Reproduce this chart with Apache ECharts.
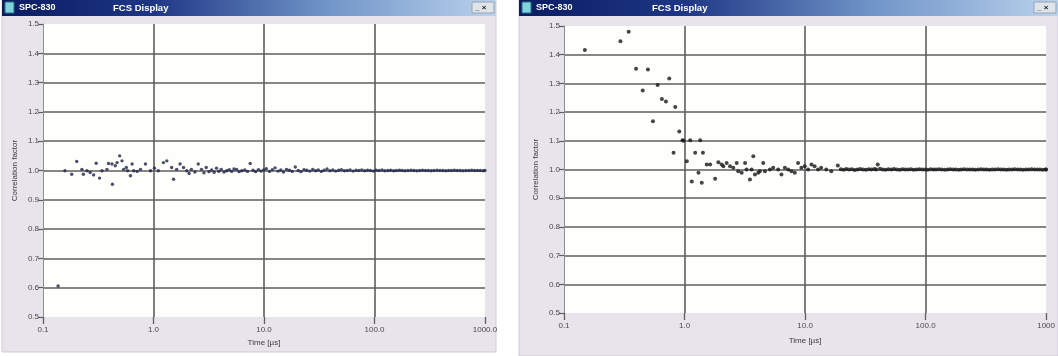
<!DOCTYPE html>
<html>
<head>
<meta charset="utf-8">
<script src="https://cdn.jsdelivr.net/npm/echarts@6/dist/echarts.min.js"></script>
<style>
  html, body { margin: 0; padding: 0; background: #ffffff; }
  #chart { width: 1058px; height: 356px; }
</style>
</head>
<body>
<div id="chart"></div>
<script>
// Tick labels
const yTickLabels = ['0.5', '0.6', '0.7', '0.8', '0.9', '1.0', '1.1', '1.2', '1.3', '1.4', '1.5'];
const xTickLabelsLeft = ['0.1', '1.0', '10.0', '100.0', '1000.0'];
const xTickLabelsRight = ['0.1', '1.0', '10.0', '100.0', '1000'];

// Left window: correlation curve, time in microseconds
const leftTimes = [
  0.137, 0.158, 0.182, 0.202, 0.225, 0.232, 0.250, 0.267, 0.287, 0.303,
  0.325, 0.342, 0.379, 0.392, 0.421, 0.425, 0.451, 0.468, 0.494, 0.519,
  0.537, 0.568, 0.584, 0.618, 0.640, 0.662, 0.711, 0.762, 0.846, 0.939,
  1.02, 1.105, 1.23, 1.32, 1.46, 1.52, 1.62, 1.74, 1.87, 2.00,
  2.10, 2.20, 2.37, 2.54, 2.72, 2.86, 3.00, 3.18, 3.36, 3.54,
  3.72, 3.90, 4.10, 4.35, 4.60, 4.85, 5.10, 5.35, 5.65, 5.95,
  6.30, 6.70, 7.10, 7.50, 7.95, 8.40, 8.90, 9.40, 9.95,
  10.5, 11.2, 11.9, 12.6, 13.4, 14.2, 15.0, 16.0, 17.0, 18.0,
  19.2, 20.4, 21.6, 23.0, 24.4, 26.0, 27.6, 29.3, 31.0, 33.0,
  35.0, 37.2, 39.5, 42.0, 44.6, 47.3, 50.2, 53.4, 56.7, 60.2,
  64.0, 68.0, 72.2, 76.7, 81.5, 86.5, 91.9, 97.6, 103.7, 110.1,
  117, 124, 132, 140, 149, 158, 168, 178, 189, 201,
  214, 227, 241, 256, 272, 289, 307, 326, 346, 368,
  391, 415, 441, 468, 497, 528, 561, 596, 633, 672,
  714, 758, 805, 855, 908, 965, 1000
];
const leftValues = [
  0.606, 0.999, 0.987, 1.031, 1.004, 0.987, 0.999, 0.993, 0.985, 1.025,
  0.974, 0.999, 1.004, 1.024, 1.022, 0.953, 1.016, 1.027, 1.050, 1.033,
  1.004, 1.010, 0.999, 0.982, 1.022, 0.999, 0.997, 1.004, 1.022, 0.999,
  1.008, 0.999, 1.027, 1.033, 1.010, 0.970, 1.004, 1.022, 1.010, 0.999,
  0.990, 1.004, 0.995, 1.022, 1.004, 0.992, 1.010, 0.996, 1.002, 0.994,
  1.008, 0.997, 1.004, 0.995, 0.999, 1.003, 0.997, 1.005, 1.004, 0.996,
  0.999, 1.002, 0.997, 1.024, 1.001, 0.996, 1.003, 0.998, 1.002,
  1.006, 0.997, 1.003, 1.009, 0.998, 1.002, 0.995, 1.004, 1.001, 0.997,
  1.012, 1.000, 0.996, 1.003, 1.001, 0.998, 1.004, 0.999, 1.002, 0.997,
  1.001, 1.005, 0.999, 1.002, 0.998, 1.001, 1.003, 0.999, 1.000, 1.002,
  0.998, 1.001, 1.000, 1.002, 0.999, 1.001, 1.000, 0.998, 1.001, 1.000,
  1.002, 0.999, 1.000, 1.001, 0.999, 1.000, 1.001, 1.000, 0.999, 1.000,
  1.001, 1.000, 0.999, 1.000, 1.001, 1.000, 1.000, 0.999, 1.000, 1.001,
  1.000, 1.000, 0.999, 1.000, 1.000, 1.001, 1.000, 1.000, 0.999, 1.000,
  1.000, 1.001, 1.000, 1.000, 1.000, 0.999, 1.000
];

// Right window: correlation curve with bunching at short times
const rightTimes = [
  0.149, 0.294, 0.344, 0.396, 0.450, 0.497, 0.547, 0.598, 0.649, 0.701,
  0.747, 0.811, 0.838, 0.904, 0.962, 0.981, 1.045, 1.115, 1.149, 1.226,
  1.305, 1.349, 1.390, 1.422, 1.529, 1.631, 1.794, 1.910, 2.034, 2.10,
  2.237, 2.386, 2.54, 2.71, 2.79, 2.98, 3.18, 3.27, 3.49, 3.60,
  3.72, 3.84, 4.09, 4.22, 4.50, 4.65, 5.11, 5.44, 5.98, 6.37,
  6.80, 7.24, 7.71, 8.22, 8.75, 9.32, 9.94, 10.6, 11.3, 12.0,
  12.8, 13.6, 15.0, 16.5, 18.7,
  19.8, 20.9, 22.0, 23.2, 24.5, 25.8, 27.2, 28.7, 30.3, 32.0,
  33.8, 35.6, 37.6, 39.0, 40.1, 41.9, 44.2, 46.6, 49.2, 52.0,
  54.8, 57.8, 61.0, 64.4, 67.9, 71.7, 75.6, 79.8, 84.2, 88.8,
  93.7, 98.9, 104.3, 110.0, 116, 122, 129, 136, 144, 152,
  160, 169, 178, 188, 198, 209, 221, 233, 246, 259,
  274, 289, 305, 321, 339, 358, 377, 398, 420, 443,
  468, 493, 521, 549, 580, 611, 645, 681, 718, 758,
  800, 844, 890, 939, 991, 1000
];
const rightValues = [
  1.416, 1.447, 1.480, 1.351, 1.275, 1.348, 1.168, 1.294, 1.246, 1.237,
  1.317, 1.058, 1.218, 1.132, 1.102, 1.100, 1.029, 1.102, 0.958, 1.058,
  0.989, 1.102, 0.954, 1.058, 1.017, 1.017, 0.968, 1.025, 1.017, 1.011,
  1.023, 1.011, 1.006, 1.023, 0.994, 0.989, 1.023, 1.000, 0.965, 1.000,
  1.046, 0.983, 0.989, 0.994, 1.023, 0.994, 1.000, 1.006, 1.000, 0.983,
  1.006, 1.000, 0.994, 0.989, 1.023, 1.006, 1.011, 1.000, 1.017, 1.011,
  1.000, 1.006, 1.000, 0.994, 1.014,
  1.001, 0.999, 1.002, 1.000, 1.001, 0.998, 1.000, 1.002, 1.000, 0.999,
  1.001, 1.000, 1.002, 1.000, 1.017, 1.003, 1.000, 0.999, 1.001, 1.000,
  1.002, 1.000, 0.999, 1.001, 1.000, 1.000, 1.001, 0.999, 1.000, 1.001,
  1.000, 1.000, 0.999, 1.001, 1.000, 1.000, 1.001, 1.000, 0.999, 1.000,
  1.001, 1.000, 1.000, 0.999, 1.000, 1.001, 1.000, 1.000, 1.000, 0.999,
  1.000, 1.001, 1.000, 1.000, 0.999, 1.000, 1.000, 1.001, 1.000, 1.000,
  0.999, 1.000, 1.000, 1.001, 1.000, 1.000, 0.999, 1.000, 1.000, 1.001,
  1.000, 1.000, 1.000, 0.999, 1.000, 1.000
];

const pairs = (xs, ys) => xs.map((x, i) => [x, ys[i]]);

const GRID_COLOR = '#5e5e5e';
const LABEL_COLOR = '#4a4a4a';
const FONT = 'Liberation Sans, Arial, sans-serif';

function xAxisFor(gridIndex, labels, nameGap) {
  return {
    type: 'log', logBase: 10, gridIndex: gridIndex,
    min: 0.1, max: 1000, splitNumber: 4,
    name: 'Time [µs]', nameLocation: 'middle', nameGap: nameGap,
    nameTextStyle: { color: '#3a3a3a', fontSize: 8, fontFamily: FONT },
    axisLine: { show: false },
    axisTick: { show: true, length: 7, lineStyle: { color: GRID_COLOR, width: 1.3 } },
    axisLabel: {
      color: LABEL_COLOR, fontSize: 8, fontFamily: FONT, margin: 9,
      formatter: v => labels[Math.round(Math.log10(v)) + 1]
    },
    splitLine: {
      show: true,
      lineStyle: { color: ['transparent', GRID_COLOR, GRID_COLOR, GRID_COLOR, 'transparent'], width: 1.6 }
    },
    minorTick: { show: false }
  };
}

function yAxisFor(gridIndex, nameGap) {
  return {
    type: 'value', gridIndex: gridIndex,
    min: 0.5, max: 1.5, interval: 0.1,
    name: 'Correlation factor', nameLocation: 'middle', nameGap: nameGap, nameRotate: 90,
    nameTextStyle: { color: '#3a3a3a', fontSize: 8, fontFamily: FONT },
    axisLine: { show: true, lineStyle: { color: '#8c8c8c', width: 1 } },
    axisTick: { show: true, length: 5, lineStyle: { color: GRID_COLOR, width: 1.2 } },
    axisLabel: {
      color: LABEL_COLOR, fontSize: 8, fontFamily: FONT, margin: 4,
      formatter: v => yTickLabels[Math.round((v - 0.5) * 10)]
    },
    splitLine: {
      show: true,
      lineStyle: {
        color: ['transparent', GRID_COLOR, GRID_COLOR, GRID_COLOR, GRID_COLOR, GRID_COLOR,
                GRID_COLOR, GRID_COLOR, GRID_COLOR, GRID_COLOR, 'transparent'],
        width: 1.6
      }
    }
  };
}

// Window frame with a gradient title bar
function windowFrame(x, w, h, titleX) {
  return [
    { type: 'rect', z: -10, shape: { x: x, y: 0, width: w, height: h },
      style: { fill: '#e8e4ec', stroke: '#cfcbd5', lineWidth: 1 } },
    { type: 'rect', z: -9, shape: { x: x, y: 0, width: w, height: 16 },
      style: { fill: new echarts.graphic.LinearGradient(0, 0, 1, 0, [
        { offset: 0, color: '#0b1c62' },
        { offset: 0.3, color: '#1d3684' },
        { offset: 0.65, color: '#6f93c7' },
        { offset: 1, color: '#b9d2ec' }
      ]) } },
    { type: 'rect', z: -8, shape: { x: x + 3, y: 2, width: 9, height: 11 },
      style: { fill: '#7fd3dc', stroke: '#2a6c80', lineWidth: 1 } },
    { type: 'text', z: -8, x: x + 17, y: 8,
      style: { text: 'SPC-830', fill: '#ffffff', font: 'bold 9px ' + FONT, verticalAlign: 'middle' } },
    { type: 'text', z: -8, x: titleX, y: 8,
      style: { text: 'FCS Display', fill: '#ffffff', font: 'bold 9.5px ' + FONT, verticalAlign: 'middle' } }
  ];
}

function buttons(x) {
  return [
    { type: 'rect', z: -8, shape: { x: x, y: 2, width: 22, height: 11 },
      style: { fill: '#dfe3ea', stroke: '#9aa3b3', lineWidth: 1 } },
    { type: 'text', z: -7, x: x + 3, y: 8,
      style: { text: '_ ×', fill: '#1c1c1c', font: 'bold 8px ' + FONT, verticalAlign: 'middle' } }
  ];
}

const chart = echarts.init(document.getElementById('chart'), null, { renderer: 'canvas' });

chart.setOption({
  animation: false,
  backgroundColor: '#ffffff',
  graphic: [
    ...windowFrame(2, 494, 352, 113),
    ...buttons(472),
    ...windowFrame(519, 539, 356, 652),
    ...buttons(1034)
  ],
  grid: [
    { left: 43, top: 24, width: 442, height: 293, show: true, backgroundColor: '#fefefb', borderWidth: 0 },
    { left: 564, top: 26, width: 485, height: 287, show: true, backgroundColor: '#fefefc', borderWidth: 0 }
  ],
  xAxis: [xAxisFor(0, xTickLabelsLeft, 20), xAxisFor(1, xTickLabelsRight, 24)],
  yAxis: [yAxisFor(0, 24), yAxisFor(1, 24)],
  series: [
    {
      type: 'scatter', xAxisIndex: 0, yAxisIndex: 0,
      data: pairs(leftTimes, leftValues),
      symbol: 'circle', symbolSize: 3.4,
      itemStyle: { color: '#1f2348' }
    },
    {
      type: 'scatter', xAxisIndex: 1, yAxisIndex: 1,
      data: pairs(rightTimes, rightValues),
      symbol: 'circle', symbolSize: 4,
      itemStyle: { color: '#161616' }
    }
  ]
});
</script>
</body>
</html>
